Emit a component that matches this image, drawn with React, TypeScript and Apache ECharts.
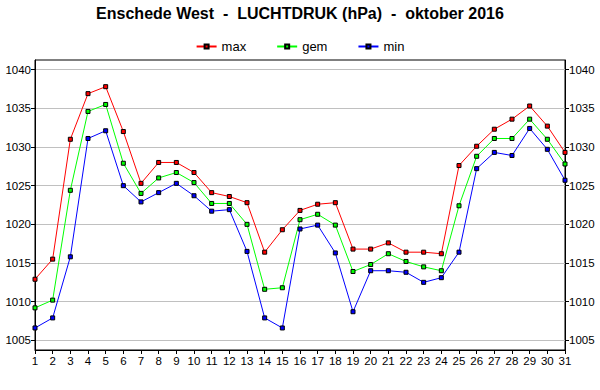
import React, { useEffect, useRef } from "react";
import * as echarts from "echarts";

const days = Array.from({ length: 31 }, (_, i) => String(i + 1));
const maxValues = [
  1012.9, 1015.5, 1031.0, 1036.9, 1037.8, 1032.0, 1025.3, 1028.0, 1028.0, 1026.7,
  1024.1, 1023.6, 1022.8, 1016.4, 1019.3, 1021.8, 1022.6, 1022.8, 1016.8, 1016.8,
  1017.6, 1016.4, 1016.4, 1016.2, 1027.6, 1030.1, 1032.3, 1033.6, 1035.3, 1032.7, 1029.3,
];
const gemValues = [
  1009.2, 1010.2, 1024.4, 1034.6, 1035.5, 1027.9, 1024.0, 1026.0, 1026.7, 1025.4,
  1022.7, 1022.7, 1020.0, 1011.6, 1011.8, 1020.6, 1021.3, 1019.9, 1013.9, 1014.8,
  1016.2, 1015.2, 1014.5, 1014.0, 1022.4, 1028.8, 1031.1, 1031.1, 1033.6, 1031.0, 1027.8,
];
const minValues = [
  1006.6, 1007.9, 1015.8, 1031.1, 1032.1, 1025.0, 1022.9, 1024.1, 1025.3, 1023.7,
  1021.7, 1021.9, 1016.5, 1007.9, 1006.6, 1019.4, 1019.9, 1016.3, 1008.7, 1014.0,
  1014.0, 1013.8, 1012.5, 1013.1, 1016.4, 1027.2, 1029.3, 1028.9, 1032.4, 1029.7, 1025.7,
];
const yTicks = [1005, 1010, 1015, 1020, 1025, 1030, 1035, 1040];

const FONT = "'Liberation Sans', Arial, sans-serif";

export default function App() {
  const ref = useRef<HTMLDivElement>(null);
  useEffect(() => {
    if (!ref.current) return;
    const chart = echarts.init(ref.current, null, { renderer: "svg" });
    const yAxisBase = (position: "left" | "right") => ({
      type: "value" as const,
      position,
      min: 1003.75,
      max: 1041.25,
      axisLine: { show: true, lineStyle: { color: "#000", width: 1 } },
      axisTick: {
        show: true,
        length: 4,
        customValues: yTicks,
        lineStyle: { color: "#000" },
      },
      axisLabel: {
        customValues: yTicks,
        formatter: (v: number) => String(v),
        color: "#000",
        fontSize: 11.5,
        fontFamily: FONT,
        margin: 4,
      },
      splitLine: {
        show: position === "left",
        lineStyle: { color: "#c0c0c0", width: 1 },
      },
    });
    const mk = (name: string, data: number[], color: string) => ({
      name,
      type: "line" as const,
      data,
      symbol: "rect",
      symbolSize: 4,
      showAllSymbol: true,
      lineStyle: { color, width: 1 },
      itemStyle: { color, borderColor: "#000", borderWidth: 1 },
      emphasis: { disabled: true },
    });
    chart.setOption({
      animation: false,
      backgroundColor: "#fff",
      title: {
        text: "Enschede West  -  LUCHTDRUK (hPa)  -  oktober 2016",
        left: "center",
        top: 0,
        textStyle: { fontFamily: FONT, fontSize: 16, fontWeight: "bold", color: "#000" },
      },
      legend: {
        top: 35,
        left: "center",
        itemWidth: 20,
        itemHeight: 5,
        itemGap: 30,
        textStyle: { fontFamily: FONT, fontSize: 13, color: "#000" },
        data: ["max", "gem", "min"],
      },
      grid: {
        left: 35,
        right: 35,
        top: 60,
        bottom: 40,
        show: true,
        borderColor: "#000",
        borderWidth: 1,
        backgroundColor: "#fff",
      },
      xAxis: {
        type: "category",
        data: days,
        boundaryGap: false,
        axisLine: { lineStyle: { color: "#000" } },
        axisTick: { length: 4, interval: 0, lineStyle: { color: "#000" } },
        axisLabel: { interval: 0, color: "#000", fontSize: 11.5, fontFamily: FONT, margin: 5 },
        splitLine: { show: false },
      },
      yAxis: [yAxisBase("left"), yAxisBase("right")],
      series: [
        mk("max", maxValues, "#ff0000"),
        mk("gem", gemValues, "#00ff00"),
        mk("min", minValues, "#0000ff"),
      ],
    });
    return () => chart.dispose();
  }, []);
  return (
    <div
      ref={ref}
      style={{ position: "fixed", left: 0, top: 0, width: 600, height: 390 }}
    />
  );
}
